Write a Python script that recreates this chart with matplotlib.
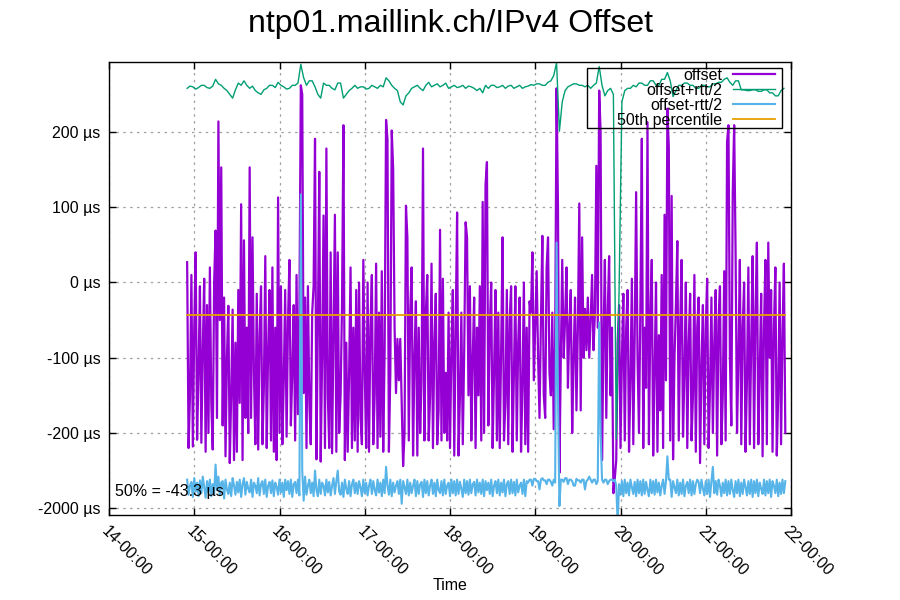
import numpy as np
import matplotlib
matplotlib.use('Agg')
import matplotlib.pyplot as plt
from matplotlib.patches import Rectangle

plt.rcParams['font.family'] = ['Liberation Sans', 'DejaVu Sans']

# offset, µs, 1 minute samples starting 14:55 (minutes after 14:00)
t0_offset = 55
step_offset = 1
offset = [
    27, -220, -150, 10, -218, -60, 40, -209, -120, -5,
    -213, -90, 5, -225, -30, -200, 20, -160, -222, 0,
    69, -180, 214, -50, 153, -190, -20, -231, -100, -31,
    -240, -150, -36, -236, -80, -225, -10, -160, 104, -236,
    56, -180, -60, -200, 153, -180, 60, -120, -215, -15,
    -222, -70, -5, -215, -140, 35, -220, -90, -10, -210,
    20, -225, -60, -236, 113, -200, -5, -215, -130, -10,
    -205, -50, 30, -190, -120, -30, -210, 10, -175, -40,
    262, 250, -147, -20, -220, -5, -160, -215, -40, -5,
    191, -235, -60, 147, -238, -100, 89, -220, 178, -150,
    -220, 40, -227, -70, 90, -225, 40, -200, -150, -30,
    209, -236, -80, -225, -120, 20, -220, -60, -210, -10,
    -225, 0, -180, -215, 30, -120, -220, 0, -225, -60,
    10, -215, -150, 25, -220, -40, -205, 15, -225, -90,
    216, 190, -225, -120, 202, 150, -60, -147, -75, -130,
    -75, -160, -244, -200, 102, 60, -210, -40, 20, -230,
    -100, -25, -230, -60, -200, -130, 178, -210, -40, 10,
    -210, -150, 25, -220, -80, -15, -215, -170, 70, -210,
    5, -200, -120, -210, -40, -220, -90, -10, -230, -60,
    93, -230, -150, -40, -215, -90, 80, 60, -150, -5,
    -210, -100, -20, -220, -60, -150, -5, -210, 107, -200,
    130, 160, -190, -60, 0, -220, -120, -10, -210, -40,
    -220, -90, 60, -210, -160, -10, -215, -50, -5, -225,
    -120, -5, -210, -80, -20, -225, -140, 0, -215, -60,
    -225, -25, -40, 40, -130, -60, 15, -100, -180, -50,
    62, -150, -180, 20, 60, -120, -150, -40, -195, -80,
    258, 100, -253, -100, 30, -100, -50, 20, -140, -60,
    -10, -200, -100, -20, -170, -60, 105, -170, 60, -100,
    -35, -90, -20, -100, -50, 10, -90, -40, 155, -60,
    255, 200, -236, -80, 30, -180, -40, 35, -150, -60,
    -280, -260, -236, -80, -30, -220, -100, -15, -210, -60,
    -10, -225, -130, 5, -215, -70, 120, -100, -200, -30,
    191, -220, -60, -140, 213, -215, -50, 30, -230, -120,
    0, -225, -70, -170, 10, -220, 90, -130, 231, 180,
    -210, 115, -235, -100, -30, 55, -210, -60, 30, -205,
    -120, 0, -220, -80, -15, -210, -150, 10, -225, -60,
    -20, -240, -110, -30, -215, -60, 5, -220, -140, -20,
    -200, -80, -10, -230, -50, -5, -215, -150, 15, -210,
    187, 209, -100, -190, 120, 209, 40, -200, -100, 30,
    -215, -60, 0, -225, -130, 20, -215, -80, 35, -220,
    -40, 53, -215, -120, -15, -231, -60, 30, -215, 53,
    -100, -10, -225, -60, 20, -230, -150, 0, -215, -70,
    25, -200,
]

# offset+rtt/2, µs, 2 minute samples
t0_plus = 55
step_plus = 2
offset_plus = [
    258, 261, 260, 257, 259, 262, 262, 259, 258, 261,
    270, 264, 262, 258, 255, 250, 245, 256, 265, 262,
    268, 262, 258, 261, 255, 252, 250, 256, 258, 262,
    262, 259, 266, 262, 260, 257, 258, 262, 262, 265,
    290, 272, 262, 268, 268, 260, 250, 245, 265, 262,
    262, 258, 256, 265, 265, 245, 250, 255, 258, 262,
    258, 260, 260, 257, 258, 262, 260, 258, 262, 260,
    272, 268, 262, 258, 255, 240, 236, 248, 252, 258,
    260, 262, 258, 255, 262, 266, 260, 262, 264, 260,
    262, 265, 258, 260, 262, 259, 260, 262, 258, 261,
    260, 258, 255, 258, 252, 262, 258, 262, 262, 259,
    260, 262, 258, 261, 262, 258, 260, 262, 258, 260,
    261, 263, 262, 264, 264, 262, 262, 266, 268, 275,
    292, 201, 240, 255, 260, 262, 264, 264, 262, 262,
    260, 262, 258, 262, 265, 287, 262, 248, 255, 258,
    250, -208, -10, 240, 255, 258, 258, 262, 260, 265,
    265, 262, 262, 268, 268, 262, 262, 270, 270, 279,
    268, 247, 255, 262, 262, 265, 265, 262, 262, 258,
    258, 262, 262, 260, 260, 264, 264, 266, 266, 270,
    272, 266, 262, 268, 268, 256, 256, 255, 255, 256,
    256, 254, 254, 256, 256, 252, 252, 248, 248, 255, 258,
]

# offset-rtt/2, µs, 1 minute samples
t0_minus = 55
step_minus = 1
offset_minus = [
    -262, -282, -270, -265, -285, -260, -278, -266, -284, -263,
    -280, -258, -272, -286, -264, -279, -262, -284, -268, -281,
    -242, -276, -258, -283, -266, -264, -287, -262, -275, -281,
    -266, -284, -260, -270, -282, -265, -279, -262, -285, -268,
    -260, -282, -265, -274, -279, -262, -285, -266, -270, -280,
    -260, -283, -268, -264, -281, -262, -285, -270, -265, -280,
    -263, -284, -266, -272, -282, -262, -279, -266, -285, -262,
    -276, -264, -281, -262, -285, -268, -265, -280, -262, -283,
    117, -250, -290, -258, -282, -270, -262, -280, -266, -284,
    -250, -276, -284, -262, -281, -266, -270, -283, -262, -279,
    -265, -283, -270, -260, -281, -264, -250, -278, -282, -266,
    -285, -262, -274, -281, -264, -284, -268, -262, -280, -266,
    -281, -264, -272, -284, -262, -280, -266, -283, -270, -262,
    -281, -264, -276, -283, -262, -279, -266, -284, -262, -280,
    -245, -270, -282, -262, -284, -266, -279, -270, -264, -281,
    -262, -294, -264, -272, -281, -262, -283, -266, -280, -270,
    -262, -284, -264, -281, -268, -265, -285, -262, -280, -264,
    -283, -270, -262, -281, -266, -284, -262, -276, -280, -264,
    -283, -262, -281, -270, -266, -284, -262, -280, -264, -283,
    -262, -281, -265, -274, -285, -262, -280, -264, -282, -262,
    -280, -268, -265, -283, -262, -279, -266, -281, -262, -284,
    -264, -276, -266, -281, -262, -284, -270, -264, -280, -262,
    -283, -266, -279, -262, -284, -268, -264, -281, -262, -280,
    -265, -283, -262, -279, -270, -266, -281, -262, -284, -264,
    -266, -262, -262, -270, -261, -261, -264, -264, -275, -262,
    -260, -263, -263, -268, -262, -262, -265, -270, -262, -266,
    53, -150, -297, -262, -262, -265, -260, -260, -268, -262,
    -262, -264, -270, -270, -261, -263, -263, -266, -262, -262,
    -275, -264, -262, -258, -262, -266, -262, -262, -268, -264,
    -53, -200, -262, -266, -262, -262, -268, -264, -262, -262,
    -264, -262, -270, -320, -268, -282, -264, -284, -262, -280,
    -266, -283, -262, -272, -281, -265, -284, -262, -280, -264,
    -283, -262, -281, -265, -276, -284, -262, -280, -264, -282,
    -262, -279, -266, -283, -270, -262, -281, -264, -231, -262,
    -262, -285, -264, -272, -280, -262, -283, -266, -281, -262,
    -284, -270, -265, -280, -262, -283, -264, -281, -268, -262,
    -265, -280, -262, -274, -283, -264, -281, -262, -285, -264,
    -245, -280, -264, -282, -262, -270, -284, -266, -280, -262,
    -283, -264, -281, -262, -276, -285, -264, -280, -262, -284,
    -266, -281, -262, -272, -283, -264, -281, -262, -285, -264,
    -280, -262, -284, -266, -274, -281, -262, -283, -264, -280,
    -262, -285, -264, -270, -280, -262, -284, -266, -281, -262,
    -280, -264,
]

percentile_50 = -43.3

ytick_vals = [200, 100, 0, -100, -200, -300]
ytick_labels = ['200 µs', '100 µs', '0 µs', '-100 µs', '-200 µs', '-2000 µs']
xtick_vals = [0, 60, 120, 180, 240, 300, 360, 420, 480]
xtick_labels = ['14-00:00', '15-00:00', '16-00:00', '17-00:00', '18-00:00',
                '19-00:00', '20-00:00', '21-00:00', '22-00:00']

t_off = t0_offset + step_offset * np.arange(len(offset))
t_plus = t0_plus + step_plus * np.arange(len(offset_plus))
t_minus = t0_minus + step_minus * np.arange(len(offset_minus))

fig = plt.figure(figsize=(9, 6), dpi=100)
ax = fig.add_axes([109 / 900, 85 / 600, 682 / 900, 453 / 600])

ax.plot(t_off, offset, color='#9400d3', lw=1.6, label='offset')
ax.plot(t_plus, offset_plus, color='#009e73', lw=1.0, label='offset+rtt/2')
ax.plot(t_minus, offset_minus, color='#56b4e9', lw=1.5, label='offset-rtt/2')
ax.plot([t_off[0], t_off[-1]], [percentile_50, percentile_50], color='#e69f00',
        lw=1.3, label='50th percentile')

ax.set_xlim(0, 480)
ax.set_ylim(-309, 293)
ax.set_yticks(ytick_vals)
ax.set_yticklabels(ytick_labels, fontsize=11.5)
ax.set_xticks(xtick_vals)
ax.set_xticklabels(xtick_labels, fontsize=11.5, rotation=-45, ha='left', va='top',
                   rotation_mode='anchor')
ax.tick_params(direction='in', length=5, width=1, top=True, right=True, pad=6)
ax.grid(True, color='#a0a0a0', lw=0.9, linestyle=(0, (2, 3.5)))
for s in ax.spines.values():
    s.set_linewidth(1)

fig.text(450 / 900, 1 - 586 / 600, 'Time', ha='center', va='center', fontsize=11.5)
ax.text(0.0088, 0.0508, '50% = -43.3 µs', transform=ax.transAxes, fontsize=11.5,
        va='center')

fig.suptitle('ntp01.maillink.ch/IPv4 Offset', fontsize=23, y=0.985)

# legend box like gnuplot's
ax.add_patch(Rectangle(((587 - 109) / 682, (515 - 128) / 453), 195 / 682, 60 / 453,
                       transform=ax.transAxes, fill=False, edgecolor='black', lw=1,
                       zorder=5))
leg = ax.legend(loc='upper right', bbox_to_anchor=((775 - 109) / 682, (515 - 68) / 453),
                markerfirst=False, fontsize=11.5, frameon=False, borderpad=0,
                borderaxespad=0, labelspacing=0.0, handlelength=2.6,
                handletextpad=0.7)
for txt in leg.get_texts():
    txt.set_ha('right')

fig.savefig('out.png', dpi=100)
